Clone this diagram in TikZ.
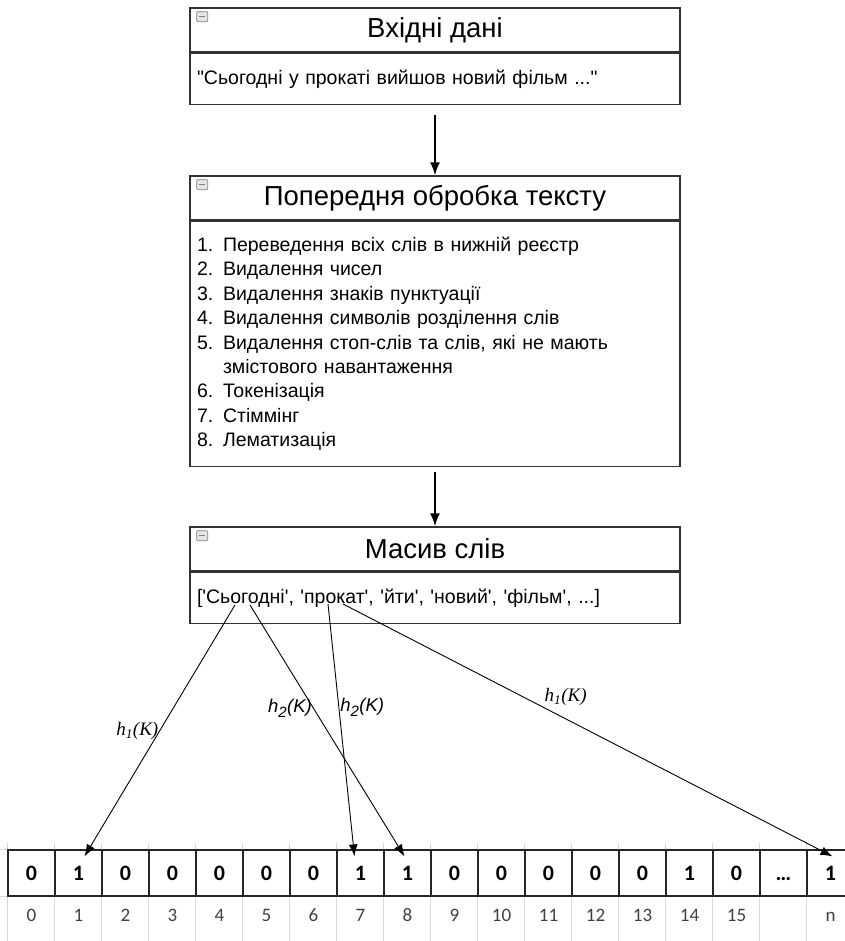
\documentclass[tikz,border=0pt]{standalone}
\usepackage{fontspec}
\setmainfont{Liberation Sans}[Ligatures=TeXOff]
\newfontfamily\calibri{Carlito}
\newfontfamily\timesfont{Liberation Serif}
\usetikzlibrary{positioning, arrows.meta}

\tikzset{
  boxhead/.style={draw=black!80, line width=1.3pt, minimum width=490pt, minimum height=44pt, inner sep=0pt, font=\fontsize{27.5}{30}\selectfont},
  boxbody/.style={draw=black!80, line width=1.3pt, minimum width=490pt, text width=476pt, inner xsep=7pt, align=left, font=\fontsize{19.5}{24.4}\selectfont},
  iconbox/.style={draw=gray, fill=gray!20, line width=0.7pt, rounded corners=1pt, minimum width=11pt, minimum height=10pt, inner sep=0pt,
    path picture={\draw[line width=1.3pt] ([xshift=2.5pt]path picture bounding box.west) -- ([xshift=-2.5pt]path picture bounding box.east);}},
  bigarrow/.style={-{Latex[length=13pt, width=10pt]}, line width=2pt},
  hasharrow/.style={-{Latex[length=12pt, width=9pt]}, line width=0.9pt},
  cell/.style={draw=black!85, line width=1.2pt, minimum width=47pt, minimum height=46pt, inner sep=0pt, text height=14pt, text depth=0pt, font=\calibri\bfseries\fontsize{22}{22}\selectfont},
  idxcell/.style={minimum width=47pt, minimum height=36pt, inner sep=0pt, text height=13pt, text depth=0pt, text=black!75, font=\calibri\fontsize{19}{19}\selectfont},
  gridline/.style={draw=black!15, line width=0.8pt},
  hlabel/.style={inner sep=1pt}
}

\begin{document}
\begin{tikzpicture}[x=1pt, y=-1pt]
	\useasboundingbox (0,0) rectangle (844,941);
	
	% Boxes
	\node [boxhead] (inhead) at (435,30) {Вхідні дані};
	\node [boxbody, below=0pt of inhead, minimum height=51pt] (inbody) {"Сьогодні у прокаті вийшов новий фільм ..."};
	
	\node [boxhead] (prehead) at (435,198) {Попередня обробка тексту};
	\node [boxbody, below=0pt of prehead, minimum height=245pt] (prebody) {1. Переведення всіх слів в нижній реєстр\\
		2. Видалення чисел\\
		3. Видалення знаків пунктуації\\
		4. Видалення символів розділення слів\\
		5. Видалення стоп-слів та слів, які не мають\\
		\phantom{5. }змістового навантаження\\
		6. Токенізація\\
		7. Стіммінг\\
		8. Лематизація\\[6pt]};
	
	\node [boxhead] (masshead) at (435,549) {Масив слів};
	\node [boxbody, below=0pt of masshead, minimum height=51pt] (massbody) {['Сьогодні', 'прокат', 'йти', 'новий', 'фільм', ...]};
	
	% Collapse icons
	\foreach \h in {inhead, prehead, masshead}
		\node [iconbox, anchor=north west] at ([xshift=7pt, yshift=-4pt]\h.north west) {};
	
	% Arrows between boxes
	\draw [bigarrow, shorten <=10pt] (inbody) -- (prehead);
	\draw [bigarrow, shorten <=5pt] (prebody) -- (masshead);
	
	% Bit array
	\foreach \v [count=\i from 0] in {0,1,0,0,0,0,0,1,1,0,0,0,0,0,1,0,…,1}
		\node [cell] (c\i) at ({31.5+47*\i}, 873) {\v};
	\foreach \n [count=\i from 0] in {0,1,2,3,4,5,6,7,8,9,10,11,12,13,14,15,{},n}
		\node [idxcell, below=0pt of c\i] (d\i) {\n};
	\foreach \i in {0,...,17} {
		\draw [gridline] (c\i.north west) -- ++(0,-6);
		\draw [gridline] (c\i.south west) -- ++(0,50);
	}
	\draw [gridline] (c0.north west) -- ++(-10,0);
	\draw [gridline] (c0.south west) -- ++(-10,0);
	
	% Hash arrows
	\coordinate (sogodni1) at (235,605);
	\coordinate (sogodni2) at (250,605);
	\coordinate (prokat1) at (328,604);
	\coordinate (prokat2) at (343,604);
	\draw [hasharrow] (sogodni1) -- ([xshift=6pt, yshift=-7pt]c1.north) node [hlabel, pos=0.5, anchor=east, font=\timesfont\itshape\fontsize{19}{19}\selectfont] {h\textsubscript{1}(K)};
	\draw [hasharrow] (sogodni2) -- ([xshift=-3pt, yshift=-7pt]c8.north) node [hlabel, pos=0.41, anchor=east, font=\itshape\fontsize{18.5}{19}\selectfont] {h\textsubscript{\fontsize{15}{15}\selectfont 2}(K)};
	\draw [hasharrow] (prokat1) -- ([xshift=-6pt, yshift=-7pt]c7.north) node [hlabel, pos=0.41, anchor=west, font=\itshape\fontsize{18.5}{19}\selectfont] {h\textsubscript{\fontsize{15}{15}\selectfont 2}(K)};
	\draw [hasharrow] (prokat2) -- ([xshift=2pt, yshift=-7pt]c17.north) node [hlabel, pos=0.455, anchor=south, yshift=12pt, font=\timesfont\itshape\fontsize{19}{19}\selectfont] {h\textsubscript{1}(K)};
\end{tikzpicture}
\end{document}
